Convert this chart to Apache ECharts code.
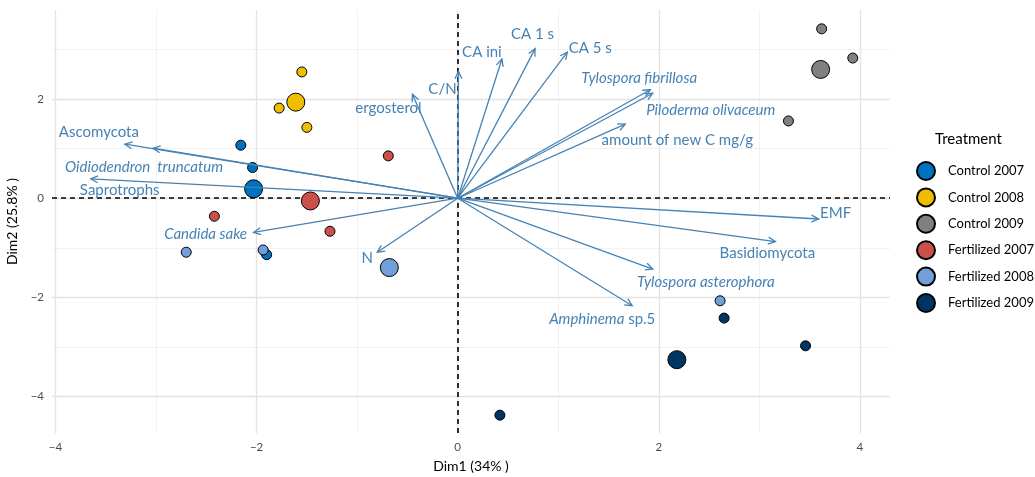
<!DOCTYPE html>
<html>
<head>
<meta charset="utf-8">
<script src="https://cdn.jsdelivr.net/npm/echarts@6/dist/echarts.min.js"></script>
<style>html,body{margin:0;padding:0;background:#fff}#c{width:1035px;height:477px}</style>
</head>
<body>
<div id="c"></div>
<script>
// ---- data ----
const treatments = ['Control 2007','Control 2008','Control 2009','Fertilized 2007','Fertilized 2008','Fertilized 2009'];
const control2007 = [[-2.157,1.07],[-2.04,0.62],[-1.90,-1.14]];
const control2008 = [[-1.55,2.55],[-1.776,1.82],[-1.50,1.43]];
const control2009 = [[3.62,3.42],[3.93,2.83],[3.29,1.56]];
const fertilized2007 = [[-0.69,0.855],[-2.42,-0.364],[-1.27,-0.667]];
const fertilized2008 = [[-2.70,-1.09],[-1.935,-1.045],[2.61,-2.07]];
const fertilized2009 = [[2.65,-2.42],[3.46,-2.98],[0.42,-4.38]];
const centroids = [[-2.03,0.19],[-1.61,1.94],[3.61,2.60],[-1.465,-0.055],[-0.68,-1.40],[2.18,-3.26]];

const varNames = ['C/N','ergosterol','Ascomycota','{i|Oidiodendron  truncatum}','Saprotrophs','{i|Candida sake}','N','CA ini','CA 1 s','CA 5 s','{i|Tylospora fibrillosa}','{i|Piloderma olivaceum}','amount of new C mg/g','EMF','Basidiomycota','{i|Tylospora asterophora}','{i|Amphinema} sp.5'];
const varX = [0.008,-0.45,-3.31,-3.03,-3.65,-2.03,-0.80,0.44,0.77,1.09,1.915,1.94,1.667,3.59,3.16,1.94,1.736];
const varY = [2.557,2.10,1.09,1.01,0.39,-0.69,-1.09,2.81,3.02,2.95,2.19,2.12,1.495,-0.42,-0.875,-1.43,-2.17];

const xTicks = [-4,-2,0,2,4];
const yTicks = [-4,-2,0,2];
const xMinor = [-3,-1,1,3];
const yMinor = [-3,-1,1,3];

// ---- styles ----
const colors = ['#0070C0','#F0BE00','#808080','#CB5049','#729FDA','#003462'];
const arrowColor = '#4682B4';
const labelOffsets = [[-16,18],[-24,14],[-26,-12],[-9,19],[29,11],[-48,2],[-10,6],[-20,-7],[-2.5,-14],[23,-4],[-11,-12],[58,17],[52,16],[17,-6],[-8,12],[53,13],[-30,13]];
const FONT = 'Lato, "Open Sans", sans-serif';

const groups = [control2007,control2008,control2009,fertilized2007,fertilized2008,fertilized2009];
const fmt = v => String(v).replace('-', '\u2212');

const gridLines = (axis, vals, w, c) => vals.map(v => ({[axis]: v, lineStyle:{color:c, width:w, type:'solid'}}));

const series = [];
// background grid + zero lines
series.push({
  type:'scatter', data:[], silent:true, z:1, zlevel:0,
  markLine:{
    silent:true, symbol:'none', animation:false, label:{show:false}, z:1,
    data:[
      ...gridLines('xAxis', xMinor, 0.8, '#EFEFEF'),
      ...gridLines('yAxis', yMinor, 0.8, '#EFEFEF'),
      ...gridLines('xAxis', xTicks, 1.3, '#E3E3E3'),
      ...gridLines('yAxis', yTicks, 1.3, '#E3E3E3')
    ]
  }
});
series.push({
  type:'scatter', data:[], silent:true, z:2,
  markLine:{
    silent:true, symbol:'none', animation:false, label:{show:false}, z:2,
    lineStyle:{color:'#000', width:1.6, type:[5,4]},
    data:[{xAxis:0},{yAxis:0}]
  }
});
groups.forEach((g, i) => {
  const d = g.map(p => ({value:p, symbolSize:10}));
  d.push({value:centroids[i], symbolSize:18});
  series.push({
    name:treatments[i], type:'scatter', z:10, data:d, symbol:'circle',
    itemStyle:{color:colors[i], borderColor:'#000', borderWidth:1, opacity:1},
    emphasis:{disabled:true}
  });
});
series.push({
  type:'custom', z:20, silent:true, clip:false,
  data: varX.map((x,i) => [x, varY[i]]),
  renderItem:(params, api) => {
    const i = params.dataIndex;
    const o = api.coord([0,0]);
    const t = api.coord([api.value(0), api.value(1)]);
    const ang = Math.atan2(t[1]-o[1], t[0]-o[0]);
    const L = 8, a = Math.PI/7;
    const p1 = [t[0]-L*Math.cos(ang-a), t[1]-L*Math.sin(ang-a)];
    const p2 = [t[0]-L*Math.cos(ang+a), t[1]-L*Math.sin(ang+a)];
    const off = labelOffsets[i];
    return {type:'group', children:[
      {type:'line', shape:{x1:o[0],y1:o[1],x2:t[0],y2:t[1]}, style:{stroke:arrowColor, lineWidth:1.3}},
      {type:'polyline', shape:{points:[p1,t,p2]}, style:{stroke:arrowColor, lineWidth:1.3, fill:null}},
      {type:'text', x:t[0]+off[0], y:t[1]+off[1], style:{
        text:varNames[i], fill:arrowColor, fontSize:15, fontFamily:FONT,
        align:'center', verticalAlign:'middle',
        rich:{i:{fontStyle:'italic', fill:arrowColor, fontSize:15, fontFamily:FONT}}
      }}
    ]};
  }
});

const chart = echarts.init(document.getElementById('c'), null, {renderer:'canvas'});
chart.setOption({
  animation:false,
  backgroundColor:'#fff',
  grid:{left:52, right:145, top:10, bottom:44, containLabel:false, outerBoundsMode:'none'},
  xAxis:{
    type:'value', min:-4.035, max:4.30,
    name:'Dim1 (34% )', nameLocation:'middle', nameGap:26,
    nameTextStyle:{color:'#000', fontSize:14, fontFamily:FONT},
    axisLine:{show:false}, splitLine:{show:false},
    axisTick:{show:true, length:4, lineStyle:{color:'#333'}, customValues:xTicks},
    axisLabel:{color:'#4D4D4D', fontSize:11.5, fontFamily:FONT, margin:8, customValues:xTicks, formatter:fmt}
  },
  yAxis:{
    type:'value', min:-4.74, max:3.80,
    name:'Dim2 (25.8% )', nameLocation:'middle', nameGap:28,
    nameTextStyle:{color:'#000', fontSize:14, fontFamily:FONT},
    axisLine:{show:false}, splitLine:{show:false},
    axisTick:{show:true, length:4, lineStyle:{color:'#333'}, customValues:yTicks},
    axisLabel:{color:'#4D4D4D', fontSize:11.5, fontFamily:FONT, margin:8, customValues:yTicks, formatter:fmt}
  },
  legend:{
    orient:'vertical', left:911, top:156, itemWidth:34, itemHeight:18, itemGap:6.4,
    icon:'circle', data:treatments,
    textStyle:{color:'#000', fontSize:13, fontFamily:FONT}
  },
  graphic:[{type:'text', left:935, top:132, style:{text:'Treatment', fill:'#000', fontSize:15, fontFamily:FONT}}],
  series: series
});
</script>
</body>
</html>
